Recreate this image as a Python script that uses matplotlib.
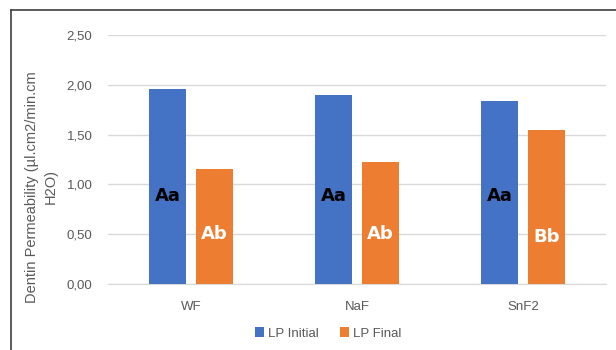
import matplotlib
matplotlib.use("Agg")
import matplotlib.pyplot as plt
from matplotlib.lines import Line2D
import numpy as np

categories = ["WF", "NaF", "SnF2"]
lp_initial = [1.96, 1.90, 1.84]
lp_final = [1.15, 1.22, 1.55]
initial_labels = ["Aa", "Aa", "Aa"]
final_labels = ["Ab", "Ab", "Bb"]
initial_label_pos = [0.88, 0.88, 0.88]
final_label_pos = [0.50, 0.50, 0.47]
y_ticks = [0.0, 0.5, 1.0, 1.5, 2.0, 2.5]

BLUE = "#4472C4"
ORANGE = "#ED7D31"
GRAY = "#595959"

plt.rcParams["font.family"] = ["Liberation Sans", "DejaVu Sans"]

fig = plt.figure(figsize=(6.16, 3.5), dpi=100)
ax = fig.add_axes([0.175, 0.189, 0.809, 0.711])

x = np.arange(len(categories))
w = 0.222
off = 0.141
ax.bar(x - off, lp_initial, w, color=BLUE, label="LP Initial", zorder=3)
ax.bar(x + off, lp_final, w, color=ORANGE, label="LP Final", zorder=3)

for i in range(len(categories)):
    ax.text(x[i] - off, initial_label_pos[i], initial_labels[i], ha="center", va="center",
            fontsize=13, fontweight="heavy", color="black", family="DejaVu Sans", zorder=4)
    ax.text(x[i] + off, final_label_pos[i], final_labels[i], ha="center", va="center",
            fontsize=13, fontweight="heavy", color="white", family="DejaVu Sans", zorder=4)

ax.set_xlim(-0.5, len(categories) - 0.5)
ax.set_ylim(0, 2.5)
ax.set_yticks(y_ticks)
ax.set_yticklabels([f"{v:.2f}".replace(".", ",") for v in y_ticks])
ax.set_xticks(x)
ax.set_xticklabels(categories)
ax.tick_params(axis="both", length=0, colors=GRAY, labelsize=9.5)
ax.tick_params(axis="y", pad=11)
ax.tick_params(axis="x", pad=12)
ax.grid(axis="y", color="#d9d9d9", linewidth=1, zorder=0)
for s in ["top", "right", "left"]:
    ax.spines[s].set_visible(False)
ax.spines["bottom"].set_color("#d9d9d9")
ax.set_ylabel("Dentin Permeability (µl.cm2/min.cm\nH2O)", color=GRAY, fontsize=10.5,
              linespacing=1.45)
ax.yaxis.set_label_coords(-0.10, 0.39)

fig.legend(loc="center", bbox_to_anchor=(0.533, 0.047), ncol=2, frameon=False,
           fontsize=9.5, labelcolor=GRAY, handlelength=0.7, handleheight=0.7,
           handletextpad=0.3, columnspacing=1.6)

# outer chart border (top and left edges visible)
fig.add_artist(Line2D([11 / 616, 1.0], [1 - 10 / 350, 1 - 10 / 350],
                      transform=fig.transFigure, color="#404040", linewidth=1.2))
fig.add_artist(Line2D([11 / 616, 11 / 616], [0.0, 1 - 10 / 350],
                      transform=fig.transFigure, color="#404040", linewidth=1.2))

fig.savefig("out.png", dpi=100)
